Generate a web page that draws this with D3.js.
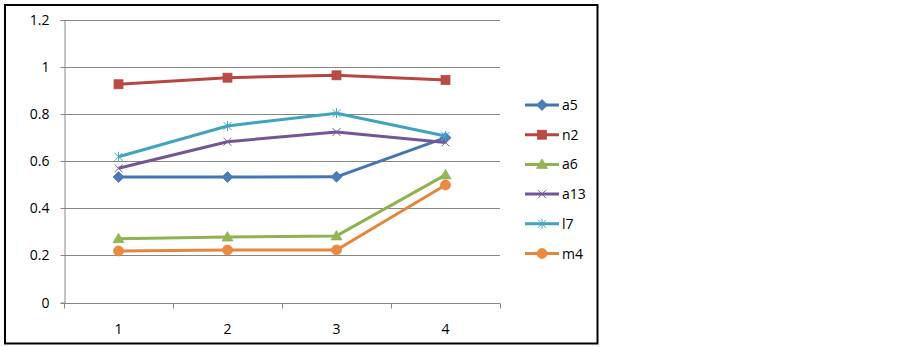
<!DOCTYPE html>
<html>
<head>
<meta charset="utf-8">
<script src="https://cdn.jsdelivr.net/npm/d3@7/dist/d3.min.js"></script>
<style>
	body { margin: 0; background: white; }
	text { font-family: "Open Sans", sans-serif; font-size: 14px; fill: #000; }
</style>
</head>
<body>
<script>
// chart values
var categories = ["1", "2", "3", "4"]
var seriesNames = ["a5", "n2", "a6", "a13", "l7", "m4"]
var a5 = [0.533, 0.533, 0.534, 0.70]
var n2 = [0.927, 0.955, 0.965, 0.945]
var a6 = [0.271, 0.278, 0.283, 0.542]
var a13 = [0.57, 0.683, 0.724, 0.68]
var l7 = [0.619, 0.75, 0.804, 0.707]
var m4 = [0.219, 0.223, 0.223, 0.499]
var yTicks = [0, 0.2, 0.4, 0.6, 0.8, 1, 1.2]

var seriesValues = [a5, n2, a6, a13, l7, m4]
var lineColors = ["#4476B6", "#B8453F", "#91B250", "#735697", "#41A3BE", "#E8853C"]
var markerColors = ["#4A7CBA", "#BA4A46", "#94B654", "#7A5D9C", "#46A8C2", "#EC8A40"]
var markerTypes = ["diamond", "square", "triangle", "x", "star", "circle"]

var svg = d3.select("body").append("svg")
	.attr("width", 903).attr("height", 347)

// outer frame
svg.append("rect")
	.attr("x", 5).attr("y", 5).attr("width", 592.5).attr("height", 338.5)
	.attr("fill", "none").attr("stroke", "#000").attr("stroke-width", 2)

var x = d3.scaleBand().domain(categories).range([64, 500])
var y = d3.scaleLinear().domain([0, 1.2]).range([302.5, 20])

// horizontal gridlines
svg.append("g").selectAll("line").data(yTicks.slice(1)).enter().append("line")
	.attr("x1", 64).attr("x2", 500)
	.attr("y1", function(d) { return Math.round(y(d)) + 0.5 })
	.attr("y2", function(d) { return Math.round(y(d)) + 0.5 })
	.attr("stroke", "#868686").attr("stroke-width", 1)

// y axis
var yAxis = svg.append("g").attr("transform", "translate(64.5,0)")
	.call(d3.axisLeft(y).tickValues(yTicks).tickSize(4).tickPadding(11)
		.tickFormat(function(d) { return String(d) }))
yAxis.select(".domain").attr("stroke", "#868686")
yAxis.selectAll(".tick line").attr("stroke", "#868686")
yAxis.selectAll(".tick").attr("transform", function(d) { return "translate(0," + (Math.round(y(d)) + 0.5) + ")" })
yAxis.selectAll("text").attr("font-size", null).attr("font-family", null)

// x axis (ticks between categories)
var baseY = Math.round(y(0)) + 0.5
svg.append("line").attr("x1", 64).attr("x2", 500).attr("y1", baseY).attr("y2", baseY)
	.attr("stroke", "#868686")
var bounds = categories.map(function(c) { return x(c) }).concat([x(categories[categories.length - 1]) + x.bandwidth()])
svg.append("g").selectAll("line").data(bounds).enter().append("line")
	.attr("x1", function(d) { return Math.round(d) + 0.5 }).attr("x2", function(d) { return Math.round(d) + 0.5 })
	.attr("y1", baseY).attr("y2", baseY + 5)
	.attr("stroke", "#868686")
svg.append("g").selectAll("text").data(categories).enter().append("text")
	.attr("x", function(d) { return x(d) + x.bandwidth() / 2 })
	.attr("y", 334)
	.attr("text-anchor", "middle")
	.text(function(d) { return d })

function drawMarker(g, type, cx, cy, s) {
	var color = markerColors[s], edge = lineColors[s]
	if (type == "diamond") {
		g.append("path").attr("d", "M" + cx + "," + (cy - 5.5) + "L" + (cx + 5.5) + "," + cy + "L" + cx + "," + (cy + 5.5) + "L" + (cx - 5.5) + "," + cy + "Z")
			.attr("fill", color).attr("stroke", edge).attr("stroke-width", 0.75)
	} else if (type == "square") {
		g.append("rect").attr("x", cx - 4.5).attr("y", cy - 4.5).attr("width", 9).attr("height", 9)
			.attr("fill", color).attr("stroke", edge).attr("stroke-width", 0.75)
	} else if (type == "triangle") {
		g.append("path").attr("d", "M" + cx + "," + (cy - 5.5) + "L" + (cx + 5.5) + "," + (cy + 4) + "L" + (cx - 5.5) + "," + (cy + 4) + "Z")
			.attr("fill", color).attr("stroke", edge).attr("stroke-width", 0.75)
	} else if (type == "circle") {
		g.append("circle").attr("cx", cx).attr("cy", cy).attr("r", 5)
			.attr("fill", color).attr("stroke", edge).attr("stroke-width", 0.75)
	} else if (type == "x") {
		g.append("path").attr("d", "M" + (cx - 4) + "," + (cy - 4) + "L" + (cx + 4) + "," + (cy + 4) + "M" + (cx + 4) + "," + (cy - 4) + "L" + (cx - 4) + "," + (cy + 4))
			.attr("fill", "none").attr("stroke", color).attr("stroke-width", 1)
	} else if (type == "star") {
		g.append("path").attr("d", "M" + (cx - 4) + "," + (cy - 4) + "L" + (cx + 4) + "," + (cy + 4) + "M" + (cx + 4) + "," + (cy - 4) + "L" + (cx - 4) + "," + (cy + 4) + "M" + cx + "," + (cy - 5) + "L" + cx + "," + (cy + 5))
			.attr("fill", "none").attr("stroke", color).attr("stroke-width", 1)
	}
}

var line = d3.line()
	.x(function(d, i) { return x(categories[i]) + x.bandwidth() / 2 })
	.y(function(d) { return y(d) })

var plot = svg.append("g")
for (var s = 0; s < seriesValues.length; s++) {
	var g = plot.append("g")
	g.append("path").datum(seriesValues[s]).attr("d", line)
		.attr("fill", "none").attr("stroke", lineColors[s]).attr("stroke-width", 3)
		.attr("stroke-linejoin", "round")
	for (var i = 0; i < seriesValues[s].length; i++) {
		drawMarker(g, markerTypes[s], x(categories[i]) + x.bandwidth() / 2, y(seriesValues[s][i]), s)
	}
}

// legend
var legend = svg.append("g")
for (var s = 0; s < seriesNames.length; s++) {
	var ly = 105 + s * 29.7
	var lg = legend.append("g")
	lg.append("line").attr("x1", 525).attr("x2", 559).attr("y1", ly).attr("y2", ly)
		.attr("stroke", lineColors[s]).attr("stroke-width", 3)
	drawMarker(lg, markerTypes[s], 542, ly, s)
	lg.append("text").attr("x", 562).attr("y", ly + 5).text(seriesNames[s])
}
</script>
</body>
</html>
